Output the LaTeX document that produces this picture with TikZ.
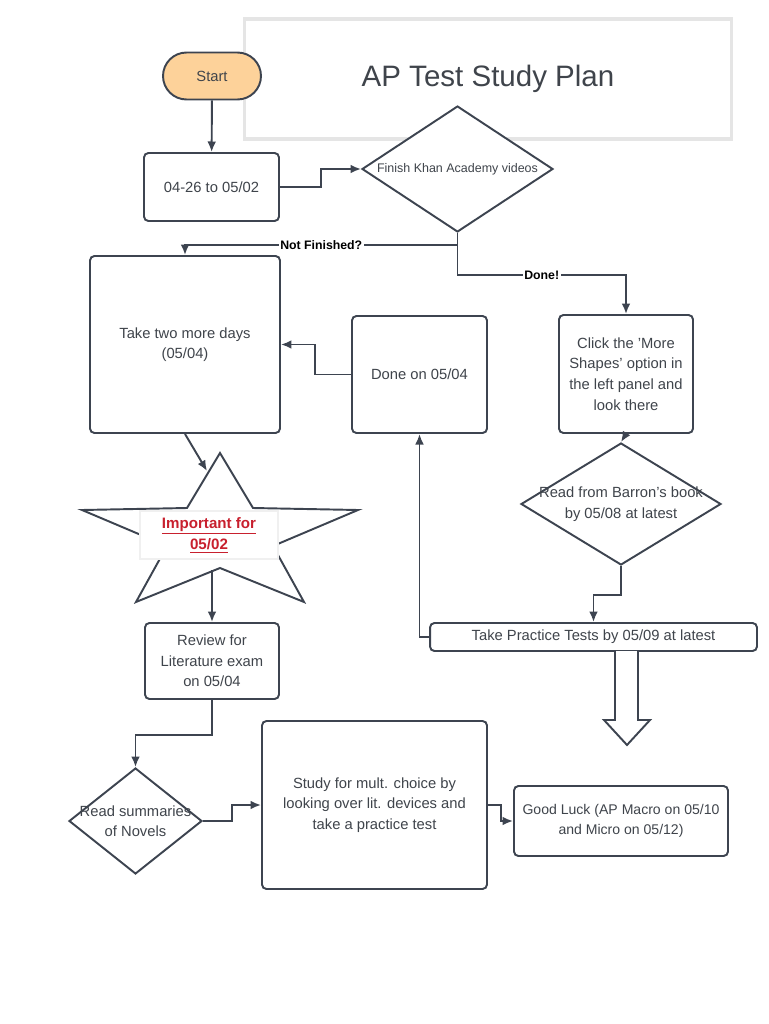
\documentclass[tikz,border=0pt]{standalone}
\usepackage{fontspec}
\setmainfont{Liberation Sans}
\usetikzlibrary{shapes,shapes.geometric,arrows.meta,calc}
\definecolor{linegray}{HTML}{3D4450}
\definecolor{textgray}{HTML}{3F444B}
\definecolor{startfill}{HTML}{FDD29A}
\definecolor{impred}{HTML}{C8202E}

\begin{document}
\begin{tikzpicture}[x=0.02cm,y=-0.02cm]
	\tikzstyle{every node}=[font=\fontsize{8.4}{11.7}\selectfont, text=textgray, align=center]
	\tikzstyle{box}=[rectangle, rounded corners=2.5pt, draw=linegray, line width=1.1pt, fill=white]
	\tikzstyle{dec}=[diamond, draw=linegray, line width=1.1pt, inner sep=0pt, fill=white]
	\tikzstyle{arr}=[draw=linegray, line width=1.1pt, -{Latex[length=6pt,width=5pt]}]
	\tikzstyle{lbl}=[fill=white, inner sep=1pt, font=\fontsize{7}{8}\selectfont\bfseries, text=black]
	\tikzstyle{shapeline}=[draw=linegray, line width=1.1pt, fill=white]
	\useasboundingbox (0,0) rectangle (768,1024);

	\node[draw=black!10, line width=2pt, minimum width=9.74cm, minimum height=2.4cm, font=\fontsize{16.8}{20}\selectfont] (title) at (488,79) {AP Test Study Plan};

	\node[box, rounded corners=0.47cm, fill=startfill, minimum width=1.96cm, minimum height=0.94cm] (start) at (212,76) {Start};
	\node[box, minimum width=2.7cm, minimum height=1.36cm] (range) at (211.5,187) {04-26 to 05/02};
	\node[dec, aspect=1.5, minimum width=3.82cm, minimum height=2.52cm, font=\fontsize{7.1}{8}\selectfont] (khan) at (457.5,169) {Finish Khan Academy videos};
	\node[box, minimum width=3.8cm, minimum height=3.54cm] (take) at (185,344.5) {Take two more days\\(05/04)};
	\node[box, minimum width=2.7cm, minimum height=2.34cm] (doneon) at (419.5,374.5) {Done on 05/04};
	\node[box, minimum width=2.68cm, minimum height=2.36cm] (click) at (626,374) {Click the 'More\\Shapes' option in\\the left panel and\\look there};
	\node[dec, minimum width=4cm, minimum height=2.44cm] (barron) at (621,504) {\makebox[0pt]{Read from Barron's book}\\\makebox[0pt]{by 05/08 at latest}};

	\begin{scope}[shift={(220,536)}]
		\draw[shapeline] (0,-83) -- (33,-28) -- (138,-26) -- (53,10) -- (84,66) -- (0,32)
			-- (-84,66) -- (-53,10) -- (-138,-26) -- (-33,-28) -- cycle;
	\end{scope}
	\coordinate (starin) at (207,471);
	\coordinate (starout) at (212,570);
	\node[draw=black!6, fill=white, line width=1pt, minimum width=2.76cm, minimum height=0.92cm, text=impred, font=\fontsize{8.6}{12}\selectfont\bfseries] (imp) at (209,535) {\underline{Important for}\\\underline{05/02}};

	\node[box, minimum width=2.68cm, minimum height=1.52cm] (review) at (212,661) {Review for\\Literature exam\\on 05/04};
	\node[box, minimum width=6.54cm, minimum height=0.56cm] (practice) at (593.5,637) {Take Practice Tests by 05/09 at latest};
	\draw[shapeline] (615,651) -- (615,720) -- (604,720) -- (627,745) -- (650,720) -- (638,720) -- (638,651);

	\node[dec, minimum width=2.66cm, minimum height=2.12cm] (novels) at (135.5,821) {\makebox[0pt]{Read summaries}\\\makebox[0pt]{of Novels}};
	\node[box, minimum width=4.5cm, minimum height=3.36cm] (study) at (374.5,805) {Study for mult. choice by\\looking over lit. devices and\\take a practice test};
	\node[box, minimum width=4.28cm, minimum height=1.4cm, font=\fontsize{8}{11.7}\selectfont] (luck) at (621,821) {Good Luck (AP Macro on 05/10\\and Micro on 05/12)};

	\draw[arr] (start) -- (range);
	\draw[arr] (range.east) -- ++(41,0) |- (khan.west);
	\draw[arr] (khan.south) -- ++(0,12) -| node[lbl, pos=0.25] {Not Finished?} (take.north);
	\draw[arr] (khan.south) -- ++(0,42) -| node[lbl, pos=0.25] {Done!} (click.north);
	\draw[arr] (doneon.west) -- ++(-36,0) |- (take.east);
	\draw[arr] (click.south) -- (barron.north);
	\draw[arr] (barron.south) -- ++(0,29) -| (practice.north);
	\draw[arr] (practice.west) -| (doneon.south);
	\draw[arr] (take.south) -- (starin);
	\draw[arr] (starout) -- (review.north);
	\draw[arr] (review.south) -- ++(0,35) -| (novels.north);
	\draw[arr] (novels.east) -- ++(29,0) |- (study.west);
	\draw[arr] (study.east) -- ++(13,0) |- (luck.west);
\end{tikzpicture}
\end{document}
